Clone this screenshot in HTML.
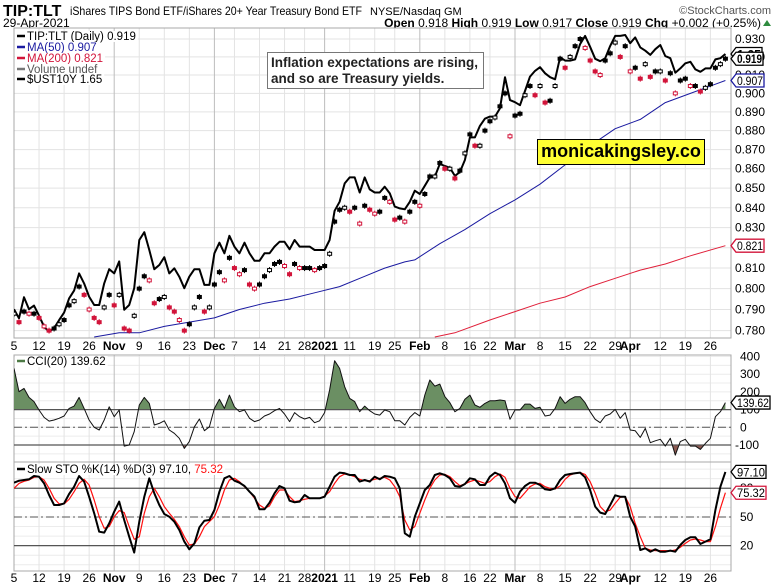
<!DOCTYPE html>
<html><head><meta charset="utf-8"><title>TIP:TLT chart</title>
<style>
html,body{margin:0;padding:0;background:#fff;}
svg{display:block;font-family:"Liberation Sans",Arial,sans-serif;}
</style></head>
<body>
<svg id="chart" width="774" height="586" viewBox="0 0 774 586" xmlns="http://www.w3.org/2000/svg">
  <rect x="0" y="0" width="774" height="586" fill="#fff"/>
  <g>
    <text x="3" y="16" font-size="16" font-weight="bold" fill="#000">TIP:TLT</text>
    <text x="70" y="15" font-size="12" fill="#000" textLength="292" lengthAdjust="spacingAndGlyphs">iShares TIPS Bond ETF/iShares 20+ Year Treasury Bond ETF</text>
    <text x="370" y="15" font-size="11" fill="#000">NYSE/Nasdaq GM</text>
    <text x="771" y="14" font-size="11" fill="#555" text-anchor="end">©StockCharts.com</text>
    <text x="3" y="27" font-size="12" fill="#000">29-Apr-2021</text>
    <text x="761" y="27" font-size="12" fill="#000" text-anchor="end"><tspan font-weight="bold">Open</tspan> 0.918 <tspan font-weight="bold">High</tspan> 0.919 <tspan font-weight="bold">Low</tspan> 0.917 <tspan font-weight="bold">Close</tspan> 0.919 <tspan font-weight="bold">Chg</tspan> +0.002 (+0.25%)</text>
    <polygon points="763,26 767,20 771,26" fill="#2e8b3e"/>
  </g>
  <g id="grid"></g>
  <g id="series"></g>
  <g id="overlay"></g>
</svg>
<script>
// ---------- data ----------
const weekTickIdx = [0,5,10,15,25,30,35,44,49,54,58,67,72,76,86,91,95,105,110,115,120,129,134,139];
const weekTickLbl = ["5","12","19","26","9","16","23","7","14","21","28","11","19","25","8","16","22","8","15","22","29","12","19","26"];
const monthTickIdx = [20,40,62,81,100,123];
const monthTickLbl = ["Nov","Dec","2021","Feb","Mar","Apr"];
const priceTicks = [0.780,0.790,0.800,0.810,0.820,0.830,0.840,0.850,0.860,0.870,0.880,0.890,0.900,0.910,0.920,0.930];
const cciTicks = [400,300,200,100,0,-100];
const stoTicks = [80,50,20];

const tipClose = [0.788,0.784,0.789,0.788,0.788,0.786,0.782,0.780,0.781,0.783,
0.785,0.792,0.794,0.801,0.797,0.790,0.786,0.784,0.791,0.797,
0.792,0.797,0.781,0.780,0.787,0.800,0.806,0.804,0.793,0.795,
0.796,0.791,0.789,0.785,0.780,0.783,0.791,0.796,0.789,0.791,
0.802,0.808,0.804,0.815,0.810,0.807,0.809,0.802,0.800,0.802,
0.806,0.809,0.812,0.813,0.811,0.807,0.812,0.810,0.810,0.810,
0.809,0.810,0.811,0.817,0.833,0.839,0.840,0.838,0.840,0.832,
0.841,0.839,0.837,0.838,0.845,0.843,0.834,0.835,0.833,0.838,
0.843,0.841,0.847,0.856,0.856,0.863,0.860,0.860,0.855,0.859,
0.868,0.878,0.872,0.872,0.880,0.885,0.887,0.893,0.900,0.877,
0.888,0.889,0.899,0.904,0.899,0.904,0.895,0.896,0.904,0.919,
0.914,0.920,0.926,0.930,0.925,0.918,0.912,0.910,0.918,0.922,
0.928,0.920,0.926,0.912,0.914,0.908,0.916,0.909,0.912,0.912,
0.907,0.911,0.900,0.907,0.908,0.904,0.904,0.901,0.903,0.905,
0.914,0.916,0.919];

const ust10y = [0.802,0.772,0.842,0.802,0.814,0.781,0.744,0.727,0.739,0.766,
0.791,0.838,0.864,0.921,0.888,0.844,0.816,0.816,0.888,0.935,
0.921,0.961,0.800,0.816,0.872,1.032,1.058,0.999,0.935,0.949,
0.975,0.921,0.938,0.910,0.872,0.910,0.935,0.935,0.883,0.883,
0.988,1.023,0.988,1.046,1.010,0.988,1.023,0.988,0.963,0.963,
0.988,0.988,1.010,1.026,1.026,1.001,1.032,1.010,1.010,1.010,
0.999,0.999,0.999,1.032,1.129,1.159,1.220,1.240,1.240,1.190,
1.240,1.200,1.190,1.190,1.209,1.187,1.143,1.137,1.134,1.159,
1.196,1.185,1.212,1.240,1.242,1.285,1.278,1.272,1.245,1.258,
1.298,1.373,1.373,1.411,1.435,1.442,1.442,1.470,1.573,1.497,
1.490,1.480,1.527,1.575,1.594,1.606,1.586,1.573,1.566,1.639,
1.628,1.628,1.632,1.683,1.710,1.674,1.634,1.626,1.636,1.677,
1.710,1.710,1.713,1.686,1.705,1.672,1.661,1.647,1.666,1.680,
1.643,1.636,1.588,1.602,1.619,1.624,1.599,1.591,1.602,1.602,
1.632,1.636,1.650];

const ma50Idx = [16,21,25,30,35,40,45,50,55,60,65,70,74,78,80,85,90,95,100,105,110,115,120,125,130,135,140,142];
const ma50Val = [0.777,0.779,0.779,0.782,0.784,0.786,0.790,0.793,0.795,0.798,0.801,0.806,0.810,0.813,0.814,0.822,0.829,0.837,0.844,0.852,0.862,0.872,0.881,0.886,0.895,0.900,0.905,0.907];
const ma200Idx = [84,88,95,100,105,110,115,120,125,130,135,142];
const ma200Val = [0.777,0.779,0.785,0.789,0.793,0.796,0.801,0.805,0.809,0.812,0.816,0.821];

const cci = [333,201,220,169,145,98,56,35,41,51,
64,107,120,169,107,41,0,-15,41,116,
60,98,-106,-100,-25,126,169,135,13,22,
37,-15,-34,-62,-119,-81,3,47,-19,3,
107,158,107,182,116,88,98,51,32,41,
64,75,94,107,75,32,83,60,47,56,
26,37,83,211,376,333,229,163,145,88,
120,94,75,69,98,
88,37,37,13,56,83,64,182,267,233,
244,173,139,88,107,158,182,126,113,135,
150,150,154,150,45,98,98,131,131,107,
113,64,69,107,173,135,158,173,173,139,
88,45,26,64,75,101,51,83,-15,-19,
-57,-6,-87,-76,-68,-106,-62,-157,-81,-68,
-106,-106,-125,-91,-62,60,88,139.62];

const stoK = [85.8,87.9,88.6,89.3,92.8,92.1,85.1,72.9,62.5,62.5,
64.2,74.0,81.6,92.8,86.9,71.2,53.8,34.6,33.6,43.3,
55.5,66.0,46.8,29.4,12.7,45.1,71.2,90.4,74.7,62.5,
53.1,50.3,45.1,36.4,24.2,16.2,22.4,39.2,46.1,46.8,
57.3,76.4,90.4,92.8,87.9,85.8,82.3,76.4,71.2,58.0,
58.0,64.9,74.7,82.3,79.9,67.0,65.3,66.0,72.9,69.5,
69.5,69.5,71.2,81.6,92.1,96.3,95.6,93.8,93.8,86.9,
88.6,86.9,92.1,89.3,92.8,
92.1,90.4,79.9,32.9,29.4,50.3,64.2,78.2,83.4,93.8,
95.6,93.8,90.4,82.3,81.6,84.4,90.4,89.3,83.4,83.4,
92.1,96.3,93.8,85.1,69.5,64.9,76.4,82.3,85.8,85.8,
83.4,78.9,78.2,79.9,88.6,93.8,94.9,95.6,96.3,91.4,
78.2,60.8,54.5,53.1,62.5,72.6,71.2,71.2,50.3,39.9,
15.5,17.2,13.7,16.2,13.7,13.7,14.8,13.7,20.7,25.9,
28.7,28.7,21.7,24.2,26.6,57.3,81.6,97.10];

const stoD = [79.9,85.1,87.2,88.6,91.4,92.1,88.6,79.9,69.5,63.6,
63.6,68.4,76.4,85.1,89.3,83.4,67.7,50.3,38.1,39.9,
50.3,56.6,54.5,39.9,26.6,29.4,53.8,71.2,79.9,71.2,
60.8,53.8,47.5,39.9,29.4,20.7,21.7,29.4,39.9,45.1,
50.3,62.5,78.2,88.6,90.4,86.9,81.6,76.4,69.5,62.5,
59.0,61.5,71.2,78.2,78.2,71.2,66.0,67.0,68.4,69.5,
69.5,69.5,71.9,76.4,85.1,92.1,94.9,93.8,92.1,89.3,
87.9,87.9,89.3,90.4,91.4,
88.6,81.6,71.2,46.8,36.4,39.9,53.8,67.7,79.9,88.6,
93.8,94.5,92.1,86.9,82.7,84.4,86.9,88.6,86.9,85.1,
86.9,92.1,94.9,91.4,79.9,71.2,69.5,75.4,81.6,84.4,
85.1,81.6,79.9,79.2,82.3,89.3,93.8,95.6,96.3,94.5,
86.9,74.7,60.8,55.5,57.3,64.2,70.5,71.2,60.8,43.3,
29.4,17.2,15.5,14.8,14.8,14.8,14.4,15.5,18.3,22.4,
25.9,27.0,25.9,24.2,24.2,39.9,59.0,75.32];

// ---------- scales / layout ----------
const L = 14, R = 731;
const MAIN = {top:28, bot:338}, CCIP = {top:355, bot:462}, STOP = {top:462, bot:571};
function X(i){ return 14 + 5.01*i; }
function yP(v){ return 39 + 1658*Math.log(0.93/v); }
function yY(v){ return 54 - (v-1.65)*301; }
function yC(v){ return 427.3 - 0.177*v; }
function yS(v){ return 564.8 - 0.957*v; }

const NS = "http://www.w3.org/2000/svg";
function mk(tag, parent, attrs){
  const e = document.createElementNS(NS, tag);
  for (const k in attrs) e.setAttribute(k, attrs[k]);
  parent.appendChild(e);
  return e;
}
const svg = document.getElementById('chart');
const grid = document.getElementById('grid');
const series = document.getElementById('series');
const overlay = document.getElementById('overlay');

const defs = mk('defs', svg, {});
[['clipMain',MAIN],['clipCci',CCIP],['clipSto',STOP]].forEach(function(p){
  const c = mk('clipPath', defs, {id:p[0]});
  mk('rect', c, {x:L, y:p[1].top, width:R-L, height:p[1].bot-p[1].top});
});

[MAIN,CCIP,STOP].forEach(function(P, k){
  const r = mk('rect', grid, {x:L, y:P.top, width:R-L, height:P.bot-P.top, fill:'#fff', stroke:'none'});
  
  
});

priceTicks.forEach(function(t){
  const y = yP(t);
  const ln = mk('line', grid, {x1:L, x2:R, y1:y, y2:y, stroke:'#e3e3e3', 'stroke-width':1});
  
  
});
for (let v=-150; v<=400; v+=50){
  const y = yC(v);
  if (y < CCIP.top || y > CCIP.bot) continue;
  const ln = mk('line', grid, {x1:L, x2:R, y1:y, y2:y, stroke:'#ececec', 'stroke-width':1});
  
  
}
for (let v=0; v<=100; v+=10){
  const y = yS(v);
  const ln = mk('line', grid, {x1:L, x2:R, y1:y, y2:y, stroke:'#ececec', 'stroke-width':1});
  
  
}
[MAIN,CCIP,STOP].forEach(function(P){
  weekTickIdx.forEach(function(i){
    const ln = mk('line', grid, {x1:X(i), x2:X(i), y1:P.top, y2:P.bot, stroke:'#e3e3e3', 'stroke-width':1});
    
    
  });
  monthTickIdx.forEach(function(i){
    const ln = mk('line', grid, {x1:X(i), x2:X(i), y1:P.top, y2:P.bot, stroke:'#bdbdbd', 'stroke-width':1});
    
    
  });
});
[MAIN,CCIP,STOP].forEach(function(P){
  const r = mk('rect', grid, {x:L, y:P.top, width:R-L, height:P.bot-P.top, fill:'none', stroke:'#a8a8a8', 'stroke-width':1});
  
  
});

[346, 578].forEach(function(ty){
  weekTickIdx.forEach(function(i, k){
    const t = mk('text', grid, {x:X(i), y:ty+4, 'font-size':12, 'text-anchor':'middle', fill:'#000'});
    t.textContent = weekTickLbl[k];
    
    
  });
  monthTickIdx.forEach(function(i, k){
    const t = mk('text', grid, {x:X(i), y:ty+4, 'font-size':12, 'font-weight':'bold', 'text-anchor':'middle', fill:'#000'});
    t.textContent = monthTickLbl[k];
    
    
  });
});

priceTicks.forEach(function(t){
  const tx = mk('text', grid, {x:735, y:yP(t)+4, 'font-size':12, fill:'#000'});
  tx.textContent = t.toFixed(3);
  
  
});
cciTicks.forEach(function(t){
  const tx = mk('text', grid, {x:t<0?735:740, y:yC(t)+4, 'font-size':12, fill:'#000'});
  tx.textContent = String(t);
  
  
});
stoTicks.forEach(function(t){
  const tx = mk('text', grid, {x:740, y:yS(t)+4, 'font-size':12, fill:'#000'});
  tx.textContent = String(t);
  
  
});

// ---------- main price series ----------
const gMain = mk('g', series, {'clip-path':'url(#clipMain)'});



function poly(parent, pts, stroke, w, name){
  const p = mk('polyline', parent, {points:pts.map(function(a){return a[0].toFixed(1)+','+a[1].toFixed(1);}).join(' '), fill:'none', stroke:stroke, 'stroke-width':w, 'stroke-linejoin':'round'});
  
  
  return p;
}
poly(gMain, ma200Idx.map(function(i,k){return [X(i), yP(ma200Val[k])];}), '#e0203a', 1, 'ma200-line');
poly(gMain, ma50Idx.map(function(i,k){return [X(i), yP(ma50Val[k])];}), '#1a1aa0', 1, 'ma50-line');
poly(gMain, ust10y.map(function(v,i){return [X(i), yY(v)];}), '#000', 2, 'ust10y-line');

tipClose.forEach(function(v, i){
  const up = i === 0 || v >= tipClose[i-1];
  const col = up ? '#000' : '#d2143a';
  const cx = X(i), cy = yP(v);
  const g = mk('g', gMain, {});
  
  
  mk('line', g, {x1:cx, x2:cx, y1:cy-3, y2:cy+3, stroke:col, 'stroke-width':1});
  mk('rect', g, {x:cx-2, y:cy-1.5, width:4, height:3, fill:(i%3===0 ? '#fff' : col), stroke:col, 'stroke-width':1});
});

// ---------- CCI ----------
const gC = mk('g', series, {'clip-path':'url(#clipCci)'});


const cciPts = cci.map(function(v,i){return [X(i), yC(v)];});
const areaPts = function(base){
  return [[X(0), yC(base)]].concat(cciPts).concat([[X(cci.length-1), yC(base)]]).map(function(a){return a[0].toFixed(1)+','+a[1].toFixed(1);}).join(' ');
};
const cup = mk('clipPath', defs, {id:'cciUp'});
mk('rect', cup, {x:L, y:CCIP.top, width:R-L, height:yC(100)-CCIP.top});
const cdn = mk('clipPath', defs, {id:'cciDn'});
mk('rect', cdn, {x:L, y:yC(-100), width:R-L, height:CCIP.bot-yC(-100)});
const fUp = mk('polygon', gC, {points:areaPts(100), fill:'#6b8f63', 'clip-path':'url(#cciUp)'});


const fDn = mk('polygon', gC, {points:areaPts(-100), fill:'#8c5a52', 'clip-path':'url(#cciDn)'});


[100,-100].forEach(function(v){
  const ln = mk('line', gC, {x1:L, x2:R, y1:yC(v), y2:yC(v), stroke:'#555', 'stroke-width':1.2});
  
  
});
const z = mk('line', gC, {x1:L, x2:R, y1:yC(0), y2:yC(0), stroke:'#555', 'stroke-width':1, 'stroke-dasharray':'8,3,2,3'});


poly(gC, cciPts, '#111', 1, 'cci-line');

// ---------- Slow STO ----------
const gS = mk('g', series, {'clip-path':'url(#clipSto)'});


[80,20].forEach(function(v){
  const ln = mk('line', gS, {x1:L, x2:R, y1:yS(v), y2:yS(v), stroke:'#555', 'stroke-width':1.2});
  
  
});
const m50 = mk('line', gS, {x1:L, x2:R, y1:yS(50), y2:yS(50), stroke:'#555', 'stroke-width':1, 'stroke-dasharray':'8,3,2,3'});


poly(gS, stoD.map(function(v,i){return [X(i), yS(v)];}), '#ff1010', 1.2, 'sto-d-line');
poly(gS, stoK.map(function(v,i){return [X(i), yS(v)];}), '#000', 2, 'sto-k-line');

// ---------- value tags ----------
function tag(cy, txt, stroke, bold, w, name){
  const g = mk('g', overlay, {});
  
  
  const x0 = 731, x1 = 736, x2 = x1 + w;
  mk('polygon', g, {points:x0+','+cy+' '+x1+','+(cy-6.5)+' '+x2+','+(cy-6.5)+' '+x2+','+(cy+6.5)+' '+x1+','+(cy+6.5), fill:'#fff', stroke:stroke, 'stroke-width':1.3});
  const t = mk('text', g, {x:x1+1, y:cy+4.5, 'font-size':12, 'font-weight':bold?'bold':'normal', fill:'#000', textLength:w-2, lengthAdjust:'spacingAndGlyphs'});
  t.textContent = txt;
}
tag(yY(ust10y[ust10y.length-1]), ust10y[ust10y.length-1].toFixed(2), '#000', true, 26, 'ust10y-value-tag');
tag(yP(tipClose[tipClose.length-1]), tipClose[tipClose.length-1].toFixed(3), '#000', true, 27, 'price-value-tag');
tag(yP(ma50Val[ma50Val.length-1]), ma50Val[ma50Val.length-1].toFixed(3), '#1a1aa0', false, 28, 'ma50-value-tag');
tag(yP(ma200Val[ma200Val.length-1]), ma200Val[ma200Val.length-1].toFixed(3), '#d2143a', false, 28, 'ma200-value-tag');
tag(yC(cci[cci.length-1]), cci[cci.length-1].toFixed(2), '#000', false, 34, 'cci-value-tag');
tag(yS(stoK[stoK.length-1]), stoK[stoK.length-1].toFixed(2), '#000', false, 30, 'sto-k-value-tag');
tag(yS(stoD[stoD.length-1]), stoD[stoD.length-1].toFixed(2), '#d2143a', false, 30, 'sto-d-value-tag');

// ---------- legends ----------
function legendLine(y, iconColor, parts, name){
  const g = mk('g', overlay, {});
  
  
  const bg = mk('rect', g, {x:15, y:y-9, width:8, height:11, fill:'#fff'});
  mk('line', g, {x1:17, x2:25, y1:y-4, y2:y-4, stroke:iconColor, 'stroke-width':2.5});
  const t = mk('text', g, {x:27, y:y, 'font-size':11.5, fill:parts[0][1]});
  parts.forEach(function(p){
    const s = mk('tspan', t, {fill:p[1]});
    s.textContent = p[0];
  });
  const bb = t.getBBox();
  bg.setAttribute('width', bb.x + bb.width - 15 + 2);
  return g;
}
legendLine(40, '#000', [['TIP:TLT (Daily) 0.919','#000']], 'legend-price');
legendLine(51, '#1a1aa0', [['MA(50) 0.907','#1a1aa0']], 'legend-ma50');
legendLine(62, '#d2143a', [['MA(200) 0.821','#d2143a']], 'legend-ma200');
legendLine(73, '#777', [['Volume undef','#555']], 'legend-volume');
legendLine(83, '#000', [['$UST10Y 1.65','#000']], 'legend-ust10y');
legendLine(365, '#4d7a45', [['CCI(20) 139.62','#000']], 'legend-cci');
legendLine(473, '#000', [['Slow STO %K(14) %D(3) 97.10, ','#000'],['75.32','#ff1010']], 'legend-sto');
</script>
<div style="position:absolute;left:267px;top:52px;width:217px;height:37px;border:1px solid #777;background:#fff;font-family:'Liberation Sans',Arial,sans-serif;font-weight:bold;font-size:13.5px;line-height:16px;padding:2px 0 0 3px;box-sizing:border-box;color:#222;white-space:nowrap;overflow:hidden;">Inflation expectations are rising,<br>and so are Treasury yields.</div>
<div style="position:absolute;left:537px;top:139px;width:168px;height:26px;border:1.5px solid #000;background:#ffff33;font-family:'Liberation Sans',Arial,sans-serif;font-weight:bold;font-size:18px;line-height:23px;text-align:center;box-sizing:border-box;color:#000;white-space:nowrap;overflow:hidden;">monicakingsley.co</div>
</body></html>
